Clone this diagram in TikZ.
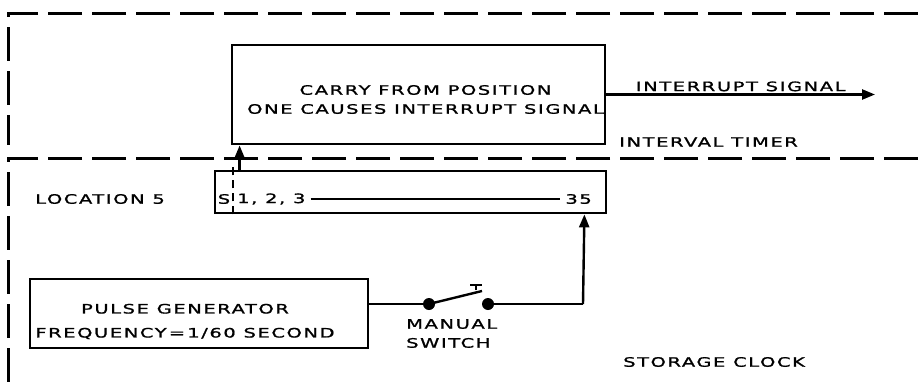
\documentclass[tikz,border=0pt]{standalone}
\usepackage{fontspec}
\newfontfamily\plainfont[FakeStretch=1.5, LetterSpace=12, FakeBold=1.2]{DejaVu Sans}
\usetikzlibrary{arrows.meta, positioning}

\begin{document}
\begin{tikzpicture} [x=1pt, y=-1pt,
    font=\plainfont\fontsize{13}{19}\selectfont,
    every node/.style = {inner sep=0pt},
    unit/.style = {draw, line width=2.8pt},
    region/.style = {line width=3pt, dash pattern=on 34pt off 10pt},
    wire/.style = {line width=2.4pt},
    sig/.style = {wire, -{Triangle[length=13pt, width=10pt]}},
    contact/.style = {circle, fill, minimum size=12pt}]
    \useasboundingbox (0,0) rectangle (918,383);
    % interval timer / storage clock borders
    \draw [region] (918,13) -- (8,13) -- (8,145);
    \draw [region] (918,158) -- (8,158) -- (8,383);

    \node (carry) [unit, minimum width=373pt, minimum height=99pt] at (418.5,94.5) {};
    \node (loc) [unit, minimum width=391pt, minimum height=42pt] at (410.5,192) {};
    \node (pulse) [unit, minimum width=338pt, minimum height=69pt] at (199,313.5) {};
    \node (carrytext) [align=center] at ([xshift=7pt, yshift=-5pt]carry.center)
        {CARRY FROM POSITION\\ONE CAUSES INTERRUPT SIGNAL};
    \node (pulsetext) [align=center] at ([xshift=-14pt, yshift=-8pt]pulse.center)
        {PULSE GENERATOR\\[5pt]FREQUENCY\,=\,1/60 SECOND};

    % location 5 contents
    \node (loclabel) [anchor=west] at (35,199) {LOCATION 5};
    \node (sign) at (224,199) {S};
    \node (first) [anchor=west] at (237,199) {1, 2, 3};
    \node (last) [anchor=east] at (592,199) {35};
    \draw [line width=1.2pt, shorten <=5pt, shorten >=5pt] (first) -- (last);
    \draw [line width=1.8pt, dash pattern=on 8pt off 5pt]
        ([xshift=19pt]loc.south west) -- ++(0,-48);

    % manual switch
    \node (sw1) [contact] at (429,304) {};
    \node (sw2) [contact] at (488,304) {};
    \coordinate (lever) at (482,291);
    \draw [wire] (pulse.east |- sw1) -- (sw1);
    \draw [wire] (sw1.center) -- (lever);
    \draw [line width=1.8pt] (476,290) -- (476,285) (470,285) -- (482,285);
    \node (swlabel) [align=left, anchor=north west] at (406,319) {MANUAL\\SWITCH};

    \coordinate (irq) at (875,94.5);
    \path [sig]
        (sw2) edge [-] (sw2 -| 583,0)
        ([xshift=26pt]loc.north west) edge ([xshift=26pt]loc.north west |- carry.south)
        (carry.east) edge node [midway, above=2pt] {INTERRUPT SIGNAL} (irq);
    \draw [sig] (sw2 -| 583,0) -- ([xshift=-23pt]loc.south east);

    \node (timer) [anchor=west] at (619,142) {INTERVAL TIMER};
    \node (clock) [anchor=west] at (623,362) {STORAGE CLOCK};
\end{tikzpicture}
\end{document}
